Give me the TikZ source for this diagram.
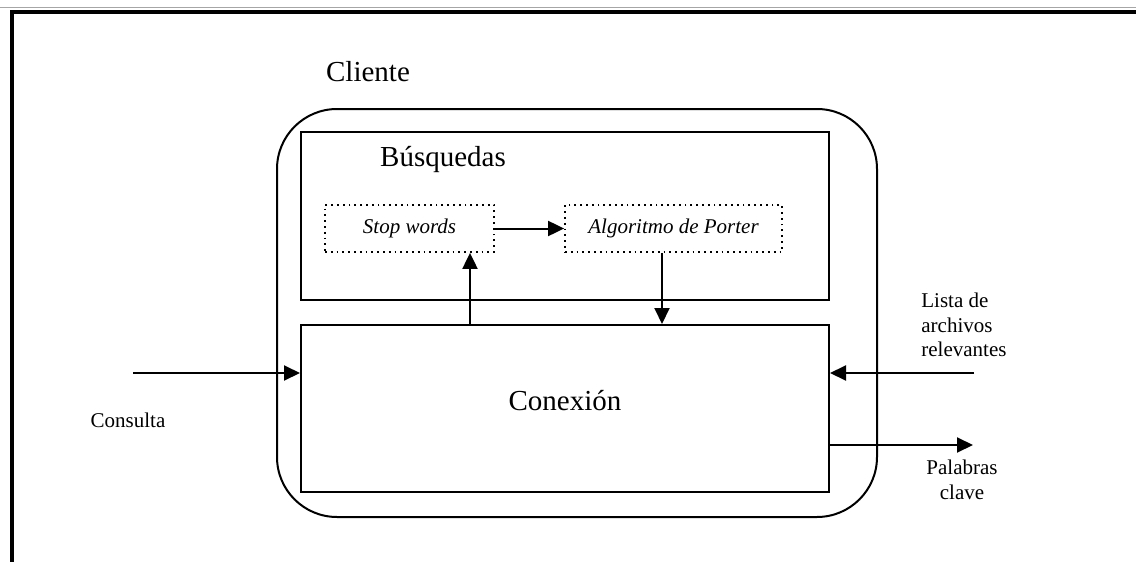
\documentclass[tikz,border=0pt]{standalone}
\usepackage{fontspec}
\setmainfont{Liberation Serif}
\usetikzlibrary{arrows.meta, positioning}

\begin{document}
\begin{tikzpicture}[x=0.5pt, y=-0.5pt]
		\tikzset{block/.style = {shape=rectangle, draw, line width=1pt, inner sep=0pt}}
		\tikzset{dotbox/.style = {shape=rectangle, draw, dotted, line width=0.9pt, inner sep=0pt, minimum height=23.5pt, font=\fontsize{10.5}{12.3}\selectfont\itshape}}
		\tikzset{edge/.style = {-{Triangle[length=8pt, width=7.5pt]}, line width=1pt}}
		\tikzset{small/.style = {font=\fontsize{10.5}{12.3}\selectfont, inner sep=0pt}}
		\tikzset{big/.style = {font=\fontsize{14.5}{17}\selectfont, inner sep=0pt}}

		\useasboundingbox (0,0) rectangle (1136,562);
		\draw[gray!70, line width=0.5pt] (0,7) -- (1136,7);
		\draw[line width=2pt] (12,562) -- (12,11.5) -- (1136,11.5);

		\node[big] (cname) at (368,72) {Cliente};
		\node[block, rounded corners=30pt, minimum width=300pt, minimum height=204pt] (cliente) at (577,313) {};

		\node[block, minimum width=264pt, minimum height=84pt] (busq) at (565,216) {};
		\node[big] (bname) at (443,160) {Búsquedas};
		\node[dotbox, minimum width=84.5pt] (stop) at (409.5,228.5) {Stop words};
		\node[dotbox, minimum width=108.5pt] (porter) at (673.5,228.5) {Algoritmo de Porter};

		\node[block, big, text depth=8pt, minimum width=264pt, minimum height=83.5pt] (conex) at (565,408.5) {Conexión};

		\coordinate (upx) at (470,0);
		\coordinate (dnx) at (662,0);
		\coordinate (in) at (133,373);
		\coordinate (lst) at (974,373);
		\coordinate (out) at (973,445);

		\draw[edge] (stop) -- (porter);
		\draw[edge] (upx |- conex.north) -- (upx |- stop.south);
		\draw[edge] (dnx |- porter.south) -- (dnx |- conex.north);
		\draw[edge] (in) -- (in -| conex.west);
		\draw[edge] (lst) -- (lst -| conex.east);
		\draw[edge] (out -| conex.east) -- (out);

		\node[small] (consulta) at (128,420) {Consulta};
		\node[small, anchor=west, align=left] (lista) at (921,325) {Lista de\\archivos\\relevantes};
		\node[small, align=center] (palabras) at (962,480) {Palabras\\clave};

	\end{tikzpicture}
\end{document}
